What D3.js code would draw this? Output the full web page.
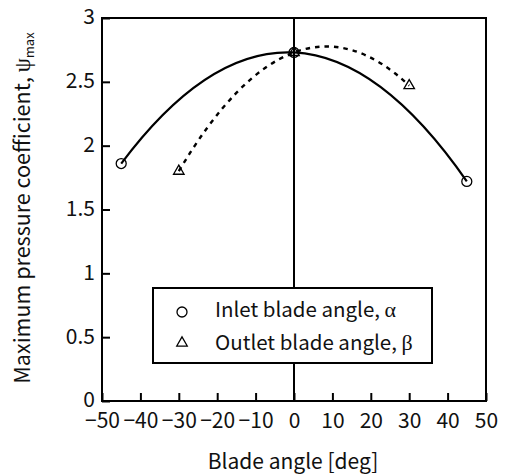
<!DOCTYPE html>
<html><head><meta charset="utf-8">
<script src="https://cdn.jsdelivr.net/npm/d3@7"></script>
<style>body{margin:0;background:#fff}</style>
</head><body><svg id="c" width="505" height="476"></svg>
<script>
// Measured maximum pressure coefficient against blade angle
const inletAngle = [-45, 0, 45];
const inletPsi = [1.86, 2.73, 1.72];
const outletAngle = [-30, 0, 30];
const outletPsi = [1.80, 2.73, 2.47];
const xTicks = [-50, -40, -30, -20, -10, 0, 10, 20, 30, 40, 50];
const yTicks = [0, 0.5, 1, 1.5, 2, 2.5, 3];
const yTickLabels = ["0", "0.5", "1", "1.5", "2", "2.5", "3"];
const legendLabels = ["Inlet blade angle, ", "Outlet blade angle, "];
const legendSymbols = ["α", "β"];

const FONT = "'Noto Sans CJK JP', 'Noto Sans', sans-serif";
const SERIF = "'Liberation Serif', 'DejaVu Serif', serif";

const svg = d3.select("#c");
const L = 102, R = 486, T = 18, B = 401;
const x = d3.scaleLinear().domain([-50, 50]).range([L, R]);
const y = d3.scaleLinear().domain([0, 3]).range([B, T]);

// Axes with inward ticks
const xAxis = svg.append("g").attr("transform", `translate(0,${B})`)
  .call(d3.axisBottom(x).tickValues(xTicks).tickSizeInner(-8).tickSizeOuter(0)
    .tickFormat(d => d < 0 ? "\u2212" + Math.abs(d) : String(d)));
xAxis.select(".domain").remove();
xAxis.selectAll("line").attr("stroke", "#000").attr("stroke-width", 2);
xAxis.selectAll("text").attr("y", 27).attr("dy", 0)
  .style("font-family", FONT).style("font-size", "21px").attr("fill", "#111");

const yAxis = svg.append("g").attr("transform", `translate(${L},0)`)
  .call(d3.axisLeft(y).tickValues(yTicks).tickSizeInner(-8).tickSizeOuter(0)
    .tickFormat((d, i) => yTickLabels[i]));
yAxis.select(".domain").remove();
yAxis.selectAll("line").attr("stroke", "#000").attr("stroke-width", 2);
yAxis.selectAll("text").attr("x", -7).attr("dy", "0.28em")
  .style("font-family", FONT).style("font-size", "21px").attr("fill", "#111");

// Plot frame
svg.append("rect").attr("x", L).attr("y", T).attr("width", R - L).attr("height", B - T)
  .attr("fill", "none").attr("stroke", "#000").attr("stroke-width", 2);

// Parabola through three equally spaced points, as a quadratic Bezier
function parabola(xs, ys) {
  const p = d3.path();
  const px = xs.map(x), py = ys.map(y);
  p.moveTo(px[0], py[0]);
  p.quadraticCurveTo(px[1], 2 * py[1] - (py[0] + py[2]) / 2, px[2], py[2]);
  return p.toString();
}

svg.append("path").attr("d", parabola(inletAngle, inletPsi))
  .attr("fill", "none").attr("stroke", "#000").attr("stroke-width", 2.2);
svg.append("path").attr("d", parabola(outletAngle, outletPsi))
  .attr("fill", "none").attr("stroke", "#000").attr("stroke-width", 2.4)
  .attr("stroke-dasharray", "4.5,5");

// Hollow markers
const tri = d3.symbol(d3.symbolTriangle, 48)();
svg.selectAll("circle.pt").data(inletAngle).join("circle").attr("class", "pt")
  .attr("cx", d => x(d)).attr("cy", (d, i) => y(inletPsi[i])).attr("r", 5)
  .attr("fill", "none").attr("stroke", "#000").attr("stroke-width", 1.3);
svg.selectAll("path.tri").data(outletAngle).join("path").attr("class", "tri")
  .attr("d", tri).attr("transform", (d, i) => `translate(${x(d)},${y(outletPsi[i])})`)
  .attr("fill", "none").attr("stroke", "#000").attr("stroke-width", 1.3);

// Zero-angle line
svg.append("line").attr("x1", x(0)).attr("x2", x(0)).attr("y1", T).attr("y2", B)
  .attr("stroke", "#000").attr("stroke-width", 2);

// Legend
const lg = svg.append("g");
lg.append("rect").attr("x", 153).attr("y", 288).attr("width", 279).attr("height", 75)
  .attr("fill", "#fff").attr("stroke", "#000").attr("stroke-width", 2);
lg.append("circle").attr("cx", 182).attr("cy", 312).attr("r", 5)
  .attr("fill", "none").attr("stroke", "#000").attr("stroke-width", 1.3);
lg.append("path").attr("d", tri).attr("transform", "translate(182,343)")
  .attr("fill", "none").attr("stroke", "#000").attr("stroke-width", 1.3);
legendLabels.forEach((t, i) => {
  const tx = lg.append("text").attr("x", 215).attr("y", 317 + i * 33)
    .style("font-family", FONT).style("font-size", "20.5px").attr("fill", "#111");
  tx.append("tspan").text(t);
  tx.append("tspan").style("font-family", SERIF).style("font-size", "22px").text(legendSymbols[i]);
});

// Axis titles
svg.append("text").attr("x", 293).attr("y", 469).attr("text-anchor", "middle")
  .style("font-family", FONT).style("font-size", "21px").attr("fill", "#111")
  .text("Blade angle [deg]");

const yt = svg.append("text").attr("transform", `translate(30,208) rotate(-90)`)
  .attr("text-anchor", "middle")
  .style("font-family", FONT).style("font-size", "21.5px").attr("fill", "#111");
yt.append("tspan").text("Maximum pressure coefficient, ");
yt.append("tspan").style("font-family", SERIF).style("font-size", "22.5px").text("ψ");
yt.append("tspan").attr("dy", 4).style("font-size", "13px").text("max");
</script>
</body></html>
